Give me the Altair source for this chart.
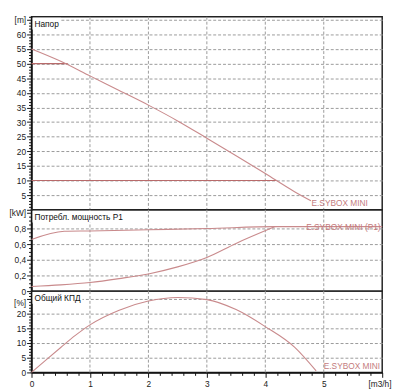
import json
import altair as alt
import pandas as pd

# ---------------- data ----------------
q_head = [0, 0.5, 1, 1.5, 2, 2.5, 3, 3.5, 4, 4.5, 4.78]
head = [55, 50.8, 45.8, 40.8, 35.8, 30.4, 24.5, 18.5, 12.4, 6.2, 3.1]

q_lim_hi = [0, 0.62]
h_lim_hi = [50, 50]
q_lim_lo = [0, 4.19]
h_lim_lo = [10, 10]

q_p_upper = [0, 0.56, 1, 2, 3, 4.17, 6]
p_upper = [0.66, 0.765, 0.77, 0.785, 0.80, 0.825, 0.825]
q_p_lower = [0, 0.5, 1, 1.5, 2, 2.5, 3, 3.5, 4.17]
p_lower = [0.06, 0.08, 0.11, 0.16, 0.22, 0.31, 0.43, 0.61, 0.825]

q_eff = [0, 0.25, 0.5, 0.75, 1, 1.5, 2, 2.5, 3, 3.5, 4, 4.5, 4.87]
eff = [0, 4.3, 8.5, 12.6, 16.2, 21.2, 24.3, 25.5, 24.8, 21.4, 15.6, 8.6, 0.5]

series_label = ["E.SYBOX MINI", "E.SYBOX MINI (P1)", "E.SYBOX MINI"]
label_q = [4.79, 4.7, 5.0]
label_v = [2.4, 0.825, 2.2]

panel_titles = ["Напор", "Потребл. мощность Р1", "Общий КПД"]
x_grid = [1, 2, 3, 4, 5]
x_tick_labels = ["0", "1", "2", "3", "4", "5", "[m3/h]"]
unit_labels = ["[m]", "[kW]", "[%]"]

# ---------------- style ----------------
FONT = "Liberation Sans"
FS = 8.5
CURVE = "#c98a8c"
LIMIT = "#b86a6a"
TXT = "#c47c7e"
W = 358
GRID = "#9a9a9a"

xdom = alt.Scale(domain=[0, 6], nice=False, zero=False)


def major(step):
    return f"abs(datum.value/{step} - round(datum.value/{step})) < 0.001"


x_axis_plain = None

x_minor = [round(i * 0.2, 1) for i in range(31)]
x_axis_bottom = alt.Axis(
    values=x_minor, title=None, grid=False,
    tickSize={"condition": {"test": major(1), "value": 5}, "value": 3},
    labelExpr=f"{major(1)} ? {json.dumps(x_tick_labels)}[round(datum.value)] : ''",
    labelAlign={"condition": {"test": "datum.value > 5.9", "value": "right"}, "value": "center"},
    labelOffset={"condition": {"test": "datum.value > 5.9", "value": 9}, "value": 0},
    labelFlush=False, labelOverlap=False, labelPadding=2,
    domainColor="#111", domainWidth=1.5, tickColor="#111")


def y_axis(vals, step, top_val, unit, fmt_expr, grid_lo, grid_hi, hide_zero, unit_base):
    is_major = major(step)
    zero_txt = "''" if hide_zero else "'0'"
    return alt.Axis(
        values=vals, title=None, grid=True, gridColor=GRID, gridDash=[3, 2],
        gridOpacity={"condition": {"test": f"{is_major} && datum.value > {grid_lo} && datum.value < {grid_hi}", "value": 1}, "value": 0},
        tickSize={"condition": {"test": is_major, "value": 5}, "value": 3},
        labelExpr=(f"abs(datum.value - {top_val}) < 0.001 ? '{unit}' : "
                   f"(abs(datum.value) < 0.001 ? {zero_txt} : ({is_major} ? {fmt_expr} : ''))"),
        labelBaseline={"condition": {"test": f"abs(datum.value - {top_val}) < 0.001", "value": unit_base}, "value": "middle"},
        labelOverlap=False, labelPadding=1,
        domainColor="#111", domainWidth=1.5, tickColor="#111")


y1_axis = y_axis(list(range(0, 67)), 5, 65, unit_labels[0], "datum.label", 1, 66, True, "middle")
y2_axis = y_axis([round(i * 0.05, 2) for i in range(21)], 0.2, 1.0, unit_labels[1],
                 "replace(format(datum.value, '.1f'), '.', ',')", 0.1, 0.9, False, "middle")
y3_axis = y_axis(list(range(0, 28)), 5, 25, unit_labels[2], "datum.label", 1, 27, False, "top")


def panel(lines, y_axis_def, ydomain, height, title, title_w, lab_idx):
    X = alt.X("q:Q", scale=xdom, axis=x_axis_bottom if lab_idx == 2 else x_axis_plain)
    Y = alt.Y("v:Q", scale=alt.Scale(domain=ydomain, nice=False, zero=False), axis=y_axis_def)
    layers = [alt.Chart(pd.DataFrame({"q": x_grid})).mark_rule(color=GRID, strokeDash=[3, 2], strokeWidth=1)
              .encode(x=X)]
    for qs, vs, color in lines:
        df = pd.DataFrame({"q": qs, "v": vs})
        layers.append(alt.Chart(df).mark_line(color=color, strokeWidth=1.1, interpolate="monotone").encode(x=X, y=Y))
    lab = pd.DataFrame({"q": [label_q[lab_idx]], "v": [label_v[lab_idx]], "t": [series_label[lab_idx]]})
    layers.append(alt.Chart(lab).mark_text(align="left", baseline="middle", font=FONT, fontSize=FS, color=TXT)
                  .encode(x=X, y=Y, text="t:N"))
    tdf = pd.DataFrame({"t": [title]})
    layers.append(alt.Chart(tdf).mark_rect(color="white").encode(
        x=alt.value(1), x2=alt.value(title_w), y=alt.value(1), y2=alt.value(13)))
    layers.append(alt.Chart(tdf).mark_text(align="left", baseline="middle", font=FONT, fontSize=FS, color="#111")
                  .encode(x=alt.value(3), y=alt.value(7.5), text="t:N"))
    return alt.layer(*layers).properties(width=W, height=height)


top = panel([(q_lim_hi, h_lim_hi, LIMIT), (q_lim_lo, h_lim_lo, LIMIT), (q_head, head, CURVE)],
            y1_axis, [0, 66], 197, panel_titles[0], 30, 0)
mid = panel([(q_p_upper, p_upper, CURVE), (q_p_lower, p_lower, CURVE)],
            y2_axis, [0, 1.04], 83, panel_titles[1], 92, 1)
bot = panel([(q_eff, eff, CURVE)], y3_axis, [0, 27.7], 83, panel_titles[2], 52, 2)

chart = alt.vconcat(top, mid, bot, spacing=0, bounds="flush").properties(
    padding={"left": 0, "top": 0, "right": 0, "bottom": 0}
).configure_view(stroke="#222", strokeWidth=1.5).configure_axis(
    labelFont=FONT, labelFontSize=FS, labelColor="#222"
).configure_axisX(grid=False)

chart.save("out.html", embed_options={"renderer": "svg", "actions": False})
